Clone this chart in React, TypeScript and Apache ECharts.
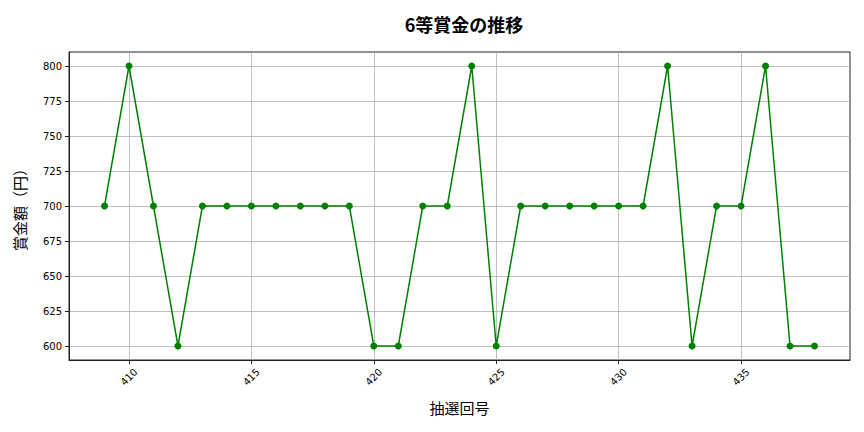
import { useEffect, useRef } from 'react'
import * as echarts from 'echarts'

// 抽選回号と6等賞金（円）
const draws = [
  409, 410, 411, 412, 413, 414, 415, 416, 417, 418, 419, 420, 421, 422, 423,
  424, 425, 426, 427, 428, 429, 430, 431, 432, 433, 434, 435, 436, 437, 438,
]
const prizes = [
  700, 800, 700, 600, 700, 700, 700, 700, 700, 700, 700, 600, 600, 700, 700,
  800, 600, 700, 700, 700, 700, 700, 700, 800, 600, 700, 700, 800, 600, 600,
]
const xTicks = [410, 415, 420, 425, 430, 435]
const yTicks = [600, 625, 650, 675, 700, 725, 750, 775, 800]

const FONT = '"Noto Sans CJK JP", "Noto Sans", sans-serif'
const TICK_FONT = '"DejaVu Sans", sans-serif'

export default function App() {
  const ref = useRef<HTMLDivElement>(null)

  useEffect(() => {
    document.body.style.margin = '0'
    if (!ref.current) return
    const chart = echarts.init(ref.current, undefined, { renderer: 'svg' })

    const span = draws[draws.length - 1] - draws[0]
    const yMin = Math.min(...prizes)
    const yMax = Math.max(...prizes)
    const ySpan = yMax - yMin

    const gridLine = { show: true, lineStyle: { color: '#b0b0b0', width: 0.8 } }

    chart.setOption({
      animation: false,
      textStyle: { fontFamily: FONT },
      title: {
        text: '6等賞金の推移',
        left: 459,
        top: 10,
        textAlign: 'center',
        textStyle: { fontSize: 18, fontWeight: 'bold', color: '#000', fontFamily: FONT },
      },
      grid: {
        left: 69,
        right: 14,
        top: 52,
        bottom: 72,
        show: true,
        borderColor: '#222',
        borderWidth: 1,
        backgroundColor: 'transparent',
      },
      xAxis: {
        type: 'value',
        min: draws[0] - span * 0.05,
        max: draws[draws.length - 1] + span * 0.05,
        name: '抽選回号',
        nameLocation: 'middle',
        nameGap: 40,
        nameTextStyle: { fontSize: 15, color: '#000', fontFamily: FONT },
        axisLine: { show: true, onZero: false, lineStyle: { color: '#222', width: 1 } },
        axisTick: { show: true, length: 4, customValues: xTicks, lineStyle: { color: '#222' } },
        axisLabel: {
          customValues: xTicks,
          rotate: 45,
          align: 'center',
          verticalAlign: 'middle',
          margin: 17,
          fontSize: 10,
          color: '#000',
          fontFamily: TICK_FONT,
        },
        splitLine: gridLine,
      },
      yAxis: {
        type: 'value',
        min: yMin - ySpan * 0.05,
        max: yMax + ySpan * 0.05,
        name: '賞金額（円）',
        nameLocation: 'middle',
        nameGap: 42,
        nameTextStyle: { fontSize: 15, color: '#000', fontFamily: FONT },
        axisLine: { show: true, lineStyle: { color: '#222', width: 1 } },
        axisTick: { show: true, length: 4, customValues: yTicks, lineStyle: { color: '#222' } },
        axisLabel: {
          customValues: yTicks,
          margin: 7,
          fontSize: 10,
          color: '#000',
          fontFamily: TICK_FONT,
        },
        splitLine: gridLine,
      },
      series: [
        {
          type: 'line',
          data: draws.map((d, i) => [d, prizes[i]]),
          symbol: 'circle',
          symbolSize: 7,
          lineStyle: { color: '#008000', width: 1.5 },
          itemStyle: { color: '#008000' },
        },
      ],
    })

    return () => chart.dispose()
  }, [])

  return <div ref={ref} style={{ width: 864, height: 432 }} />
}
